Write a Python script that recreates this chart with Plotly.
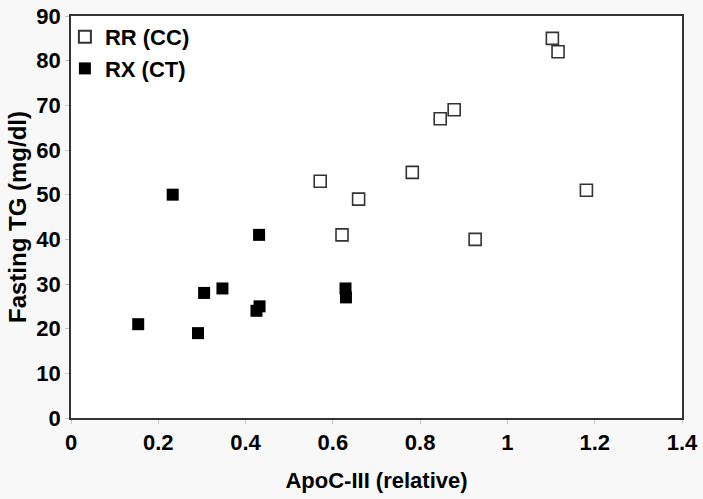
import plotly.graph_objects as go

# RR (CC) - open squares
rr_x = [1.103, 1.116, 1.181, 0.878, 0.846, 0.782, 0.926, 0.571, 0.659, 0.621]
rr_y = [85, 82, 51, 69, 67, 55, 40, 53, 49, 41]

# RX (CT) - filled squares
rx_x = [0.233, 0.431, 0.154, 0.291, 0.305, 0.347, 0.425, 0.432, 0.629, 0.630]
rx_y = [50, 41, 21, 19, 28, 29, 24, 25, 29, 27]

x_ticks = [0, 0.2, 0.4, 0.6, 0.8, 1, 1.2, 1.4]
x_tick_text = ["0", "0.2", "0.4", "0.6", "0.8", "1", "1.2", "1.4"]
y_ticks = [0, 10, 20, 30, 40, 50, 60, 70, 80, 90]

FONT = "Liberation Sans, Arial, sans-serif"

fig = go.Figure()
fig.add_trace(go.Scatter(
    x=rr_x, y=rr_y, mode="markers", name="RR (CC)",
    marker=dict(symbol="square-open", size=12, color="#333333",
                line=dict(width=1.6, color="#333333")),
))
fig.add_trace(go.Scatter(
    x=rx_x, y=rx_y, mode="markers", name="RX (CT)",
    marker=dict(symbol="square", size=12, color="#000000",
                line=dict(width=0)),
))

fig.update_layout(
    width=703, height=499,
    margin=dict(l=71, r=21, t=16, b=81),
    paper_bgcolor="#f8f8f8",
    plot_bgcolor="#ffffff",
    font=dict(family=FONT, color="#000000"),
    showlegend=True,
    legend=dict(
        x=-0.01, y=1.0, xanchor="left", yanchor="top",
        bgcolor="rgba(0,0,0,0)", borderwidth=0,
        font=dict(family=FONT, size=22, color="#000000", weight="bold"),
        itemsizing="constant", tracegroupgap=0,
    ),
    xaxis=dict(
        range=[0, 1.4], tickvals=x_ticks, ticktext=x_tick_text,
        automargin=False,
        showgrid=False, zeroline=False,
        showline=True, linecolor="#333333", linewidth=1.5, mirror=True,
        ticks="outside", ticklen=4, tickcolor="#c8c8c8", tickwidth=1,
        tickfont=dict(family=FONT, size=22, weight="bold"),
        title=dict(text="ApoC-III (relative)",
                   font=dict(family=FONT, size=22, weight="bold"),
                   standoff=18),
    ),
    yaxis=dict(
        range=[0, 90], tickvals=y_ticks,
        automargin=False,
        showgrid=False, zeroline=False,
        showline=True, linecolor="#333333", linewidth=1.5, mirror=True,
        ticks="outside", ticklen=4, tickcolor="#c8c8c8", tickwidth=1,
        tickfont=dict(family=FONT, size=22, weight="bold"),
        title=dict(text="Fasting TG (mg/dl)",
                   font=dict(family=FONT, size=24, weight="bold"),
                   standoff=3),
    ),
)

fig.write_html(
    "out.html",
    config={"displayModeBar": False},
    post_script="document.body.style.margin='0';document.body.style.background='#f8f8f8';",
)
